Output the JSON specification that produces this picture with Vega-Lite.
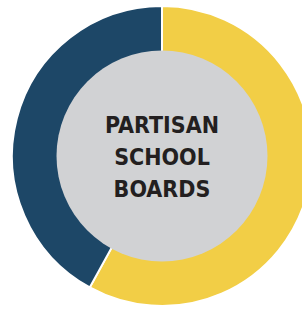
{
  "$schema": "https://vega.github.io/schema/vega-lite/v6.json",
  "width": 324,
  "height": 312,
  "padding": 0,
  "autosize": "none",
  "background": "white",
  "view": {"stroke": null},
  "resolve": {"scale": {"theta": "independent"}},
  "layer": [
    {
      "data": {"values": [
        {"segment": "Yes", "share": 58, "rank": 1},
        {"segment": "No", "share": 42, "rank": 2}
      ]},
      "mark": {"type": "arc", "outerRadius": 150, "innerRadius": 100, "stroke": "white", "strokeWidth": 2},
      "encoding": {
        "theta": {"field": "share", "type": "quantitative", "stack": true},
        "order": {"field": "rank", "type": "quantitative"},
        "color": {
          "field": "segment", "type": "nominal",
          "scale": {"domain": ["Yes", "No"], "range": ["#f2ce46", "#1d4767"]},
          "legend": null
        }
      }
    },
    {
      "data": {"values": [{"v": 1}]},
      "mark": {"type": "arc", "outerRadius": 105.5, "innerRadius": 0, "color": "#d1d2d4"},
      "encoding": {"theta": {"field": "v", "type": "quantitative"}}
    },
    {
      "data": {"values": [{"label": ["PARTISAN", "SCHOOL", "BOARDS"]}]},
      "mark": {"type": "text", "font": "DejaVu Sans Condensed", "fontWeight": "bold", "fontSize": 23, "lineHeight": 32, "color": "#231f20", "align": "center", "baseline": "middle", "dy": -30},
      "encoding": {"text": {"field": "label"}}
    }
  ]
}
